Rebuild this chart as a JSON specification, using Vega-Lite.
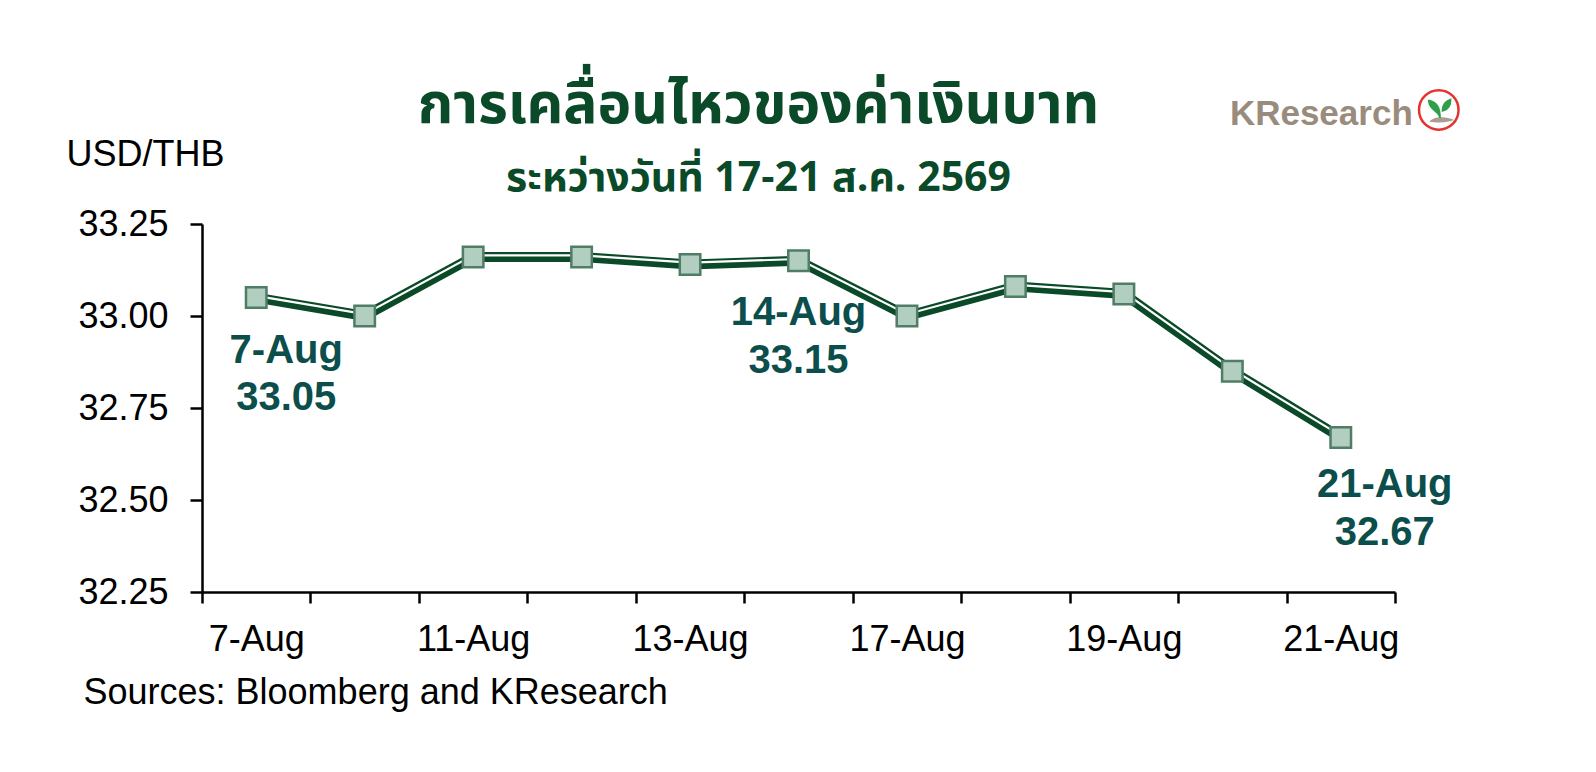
{
  "$schema": "https://vega.github.io/schema/vega-lite/v6.json",
  "width": 1193,
  "height": 368,
  "autosize": {"type": "none"},
  "padding": {"left": 202, "top": 224, "right": 201, "bottom": 180},
  "background": "white",
  "title": {
    "text": "การเคลื่อนไหวของค่าเงินบาท",
    "subtitle": "ระหว่างวันที่ 17-21 ส.ค. 2569",
    "anchor": "middle",
    "dx": -40,
    "offset": -115,
    "font": "Noto Sans Thai",
    "fontSize": 57,
    "fontWeight": "bold",
    "color": "#0a4a28",
    "subtitleFont": "Noto Sans Thai",
    "subtitleFontSize": 41,
    "subtitleFontWeight": "bold",
    "subtitleColor": "#0a4a28",
    "subtitlePadding": 24
  },
  "datasets": {
    "usdthb": [
      {"date": "7-Aug", "rate": 33.05},
      {"date": "10-Aug", "rate": 33.0},
      {"date": "11-Aug", "rate": 33.16},
      {"date": "12-Aug", "rate": 33.16},
      {"date": "13-Aug", "rate": 33.14},
      {"date": "14-Aug", "rate": 33.15},
      {"date": "17-Aug", "rate": 33.0},
      {"date": "18-Aug", "rate": 33.08},
      {"date": "19-Aug", "rate": 33.06},
      {"date": "20-Aug", "rate": 32.85},
      {"date": "21-Aug", "rate": 32.67}
    ]
  },
  "data": {"name": "usdthb"},
  "encoding": {
    "x": {
      "field": "date",
      "type": "ordinal",
      "sort": null,
      "scale": {
        "type": "band",
        "paddingInner": 0,
        "paddingOuter": 0,
        "domain": ["7-Aug", "10-Aug", "11-Aug", "12-Aug", "13-Aug", "14-Aug", "17-Aug", "18-Aug", "19-Aug", "20-Aug", "21-Aug"]
      },
      "axis": {
        "title": "Sources: Bloomberg and KResearch",
        "titleX": -119,
        "titleY": 111,
        "titleAlign": "left",
        "titleBaseline": "alphabetic",
        "titleFont": "Liberation Sans",
        "titleFontSize": 36,
        "titleFontWeight": "normal",
        "titleColor": "#000000",
        "tickBand": "extent",
        "tickSize": 11,
        "tickWidth": 2.5,
        "tickColor": "#000000",
        "domainColor": "#000000",
        "domainWidth": 2.5,
        "labelFont": "Liberation Sans",
        "labelFontSize": 36,
        "labelColor": "#000000",
        "labelPadding": 19,
        "labelAngle": 0,
        "labelOverlap": false,
        "labelExpr": "indexof(['7-Aug','11-Aug','13-Aug','17-Aug','19-Aug','21-Aug'], datum.value) >= 0 ? datum.label : ''",
        "grid": false
      }
    },
    "y": {
      "field": "rate",
      "type": "quantitative",
      "scale": {"domain": [32.25, 33.25], "nice": false, "zero": false},
      "axis": {
        "title": "USD/THB",
        "titleAngle": 0,
        "titleX": -136,
        "titleY": -70,
        "titleAlign": "left",
        "titleBaseline": "middle",
        "titleFont": "Liberation Sans",
        "titleFontSize": 36,
        "titleFontWeight": "normal",
        "titleColor": "#000000",
        "values": [32.25, 32.5, 32.75, 33, 33.25],
        "format": ".2f",
        "tickSize": 12,
        "tickWidth": 2.5,
        "tickColor": "#000000",
        "domainColor": "#000000",
        "domainWidth": 2.5,
        "labelFont": "Liberation Sans",
        "labelFontSize": 36,
        "labelColor": "#000000",
        "labelPadding": 22,
        "labelOverlap": false,
        "grid": false
      }
    }
  },
  "layer": [
    {"mark": {"type": "line", "stroke": "#0a4a28", "strokeWidth": 10}},
    {"mark": {"type": "line", "stroke": "#ffffff", "strokeWidth": 2.2, "yOffset": -1.8}},
    {
      "mark": {
        "type": "point",
        "shape": "square",
        "filled": true,
        "fill": "#b2cec0",
        "stroke": "#4f7d66",
        "strokeWidth": 2.5,
        "size": 420,
        "opacity": 1
      }
    },
    {
      "transform": [
        {"filter": "datum.date == '7-Aug'"},
        {"calculate": "datum.date + '\\n' + format(datum.rate, '.2f')", "as": "note"}
      ],
      "mark": {"type": "text", "font": "Liberation Sans", "fontSize": 40, "fontWeight": "bold", "color": "#0b4e4b", "align": "center", "baseline": "alphabetic", "lineBreak": "\n", "lineHeight": 47, "dx": 30, "dy": 65},
      "encoding": {"text": {"field": "note", "type": "nominal"}}
    },
    {
      "transform": [
        {"filter": "datum.date == '14-Aug'"},
        {"calculate": "datum.date + '\\n' + format(datum.rate, '.2f')", "as": "note"}
      ],
      "mark": {"type": "text", "font": "Liberation Sans", "fontSize": 40, "fontWeight": "bold", "color": "#0b4e4b", "align": "center", "baseline": "alphabetic", "lineBreak": "\n", "lineHeight": 48, "dx": 0, "dy": 64},
      "encoding": {"text": {"field": "note", "type": "nominal"}}
    },
    {
      "transform": [
        {"filter": "datum.date == '21-Aug'"},
        {"calculate": "datum.date + '\\n' + format(datum.rate, '.2f')", "as": "note"}
      ],
      "mark": {"type": "text", "font": "Liberation Sans", "fontSize": 40, "fontWeight": "bold", "color": "#0b4e4b", "align": "center", "baseline": "alphabetic", "lineBreak": "\n", "lineHeight": 48, "dx": 44, "dy": 60},
      "encoding": {"text": {"field": "note", "type": "nominal"}}
    },
    {
      "transform": [{"filter": "datum.date == '21-Aug'"}],
      "mark": {"type": "text", "font": "Liberation Sans", "fontSize": 35, "fontWeight": "bold", "color": "#9a8c7c", "align": "right", "baseline": "alphabetic", "dx": 72},
      "encoding": {
        "y": {"datum": 33.52, "type": "quantitative"},
        "text": {"value": "KResearch"}
      }
    },
    {
      "transform": [{"filter": "datum.date == '21-Aug'"}],
      "mark": {"type": "point", "shape": "circle", "filled": true, "fill": "#ffffff", "stroke": "#e3342f", "strokeWidth": 2.5, "size": 1560, "opacity": 1, "xOffset": 98},
      "encoding": {"y": {"datum": 33.56, "type": "quantitative"}}
    },
    {
      "transform": [{"filter": "datum.date == '21-Aug'"}],
      "mark": {"type": "point", "shape": "M -0.45 0.55 C -0.25 0.3 0.35 0.28 0.72 0.48 C 0.45 0.62 -0.1 0.62 -0.45 0.55 Z", "filled": true, "fill": "#a89d90", "strokeWidth": 0, "size": 1764, "opacity": 1, "xOffset": 98},
      "encoding": {"y": {"datum": 33.56, "type": "quantitative"}}
    },
    {
      "transform": [{"filter": "datum.date == '21-Aug'"}],
      "mark": {"type": "point", "shape": "M 0.02 0.38 C -0.02 0.05 -0.5 0.05 -0.52 -0.5 C -0.05 -0.42 0.1 -0.15 0.1 0.38 Z M 0.14 0.1 C 0.12 -0.25 0.3 -0.45 0.6 -0.55 C 0.62 -0.15 0.45 0.05 0.14 0.1 Z", "filled": true, "fill": "#2e9e48", "strokeWidth": 0, "size": 1764, "opacity": 1, "xOffset": 98},
      "encoding": {"y": {"datum": 33.56, "type": "quantitative"}}
    }
  ],
  "config": {
    "view": {"stroke": null},
    "font": "Liberation Sans"
  }
}
